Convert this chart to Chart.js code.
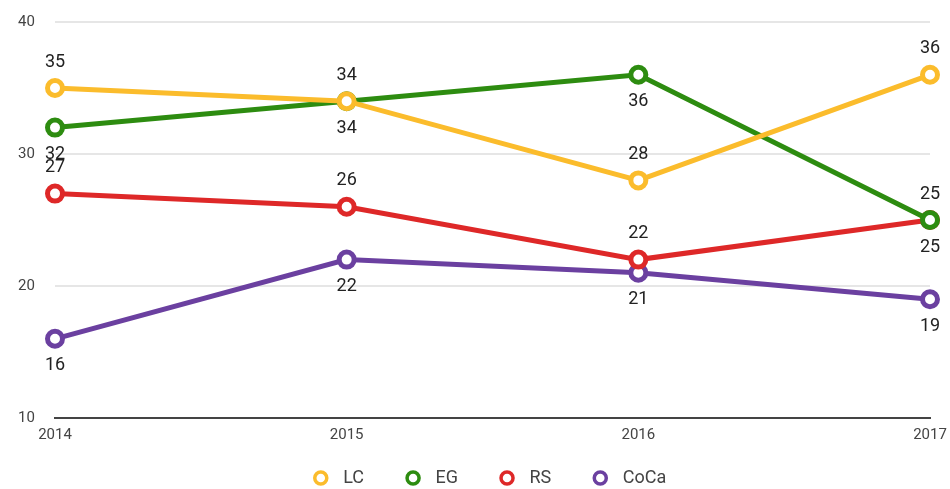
<!DOCTYPE html>
<html>
<head>
<meta charset="utf-8">
<script src="https://cdn.jsdelivr.net/npm/chart.js"></script>
<style>
  html, body { margin: 0; padding: 0; background: #fff; }
  #chart { display: block; }
</style>
</head>
<body>
<canvas id="chart" width="950" height="489"></canvas>
<script>
// data
const years = ['2014', '2015', '2016', '2017'];
const lcValues = [35, 34, 28, 36];
const egValues = [32, 34, 36, 25];
const rsValues = [27, 26, 22, 25];
const cocaValues = [16, 22, 21, 19];
const yMin = 10, yMax = 40, yStep = 10;

// value labels above / below each point
const valueLabels = {
  id: 'valueLabels',
  afterDatasetsDraw(chart) {
    const ctx = chart.ctx;
    ctx.save();
    ctx.font = '18px Roboto';
    ctx.fillStyle = '#222';
    ctx.textAlign = 'center';
    ctx.textBaseline = 'middle';
    chart.data.datasets.forEach((ds, i) => {
      chart.getDatasetMeta(i).data.forEach((pt, j) => {
        const dy = ds.labelPos === 'below' ? 27 : -26;
        ctx.fillText(String(ds.data[j]), pt.x, pt.y + dy);
      });
    });
    ctx.restore();
  }
};

function series(label, data, color, labelPos) {
  return {
    label,
    data,
    labelPos,
    borderColor: color,
    backgroundColor: '#fff',
    borderWidth: 5,
    pointRadius: 7.5,
    pointBorderWidth: 5,
    pointBackgroundColor: '#fff',
    pointBorderColor: color,
    tension: 0,
    clip: false
  };
}

new Chart(document.getElementById('chart'), {
  type: 'line',
  data: {
    labels: years,
    datasets: [
      series('LC', lcValues, '#fbbc2c', 'above'),
      series('EG', egValues, '#2d8c10', 'below'),
      series('RS', rsValues, '#de2828', 'above'),
      series('CoCa', cocaValues, '#6b40a0', 'below')
    ]
  },
  options: {
    responsive: false,
    animation: false,
    layout: { padding: { top: 22, right: 20, left: 48, bottom: -8 } },
    plugins: {
      tooltip: { enabled: false },
      legend: {
        position: 'bottom',
        labels: {
          usePointStyle: true,
          pointStyle: 'circle',
          boxWidth: 18,
          boxHeight: 8.5,
          padding: 40,
          color: '#444',
          font: { family: 'Roboto', size: 18 },
          generateLabels(chart) {
            const items = Chart.defaults.plugins.legend.labels.generateLabels(chart);
            items.forEach(it => {
              it.text = ' ' + it.text;
              it.fillStyle = '#fff';
              it.lineWidth = 3.5;
            });
            return items;
          }
        }
      }
    },
    scales: {
      x: {
        offset: false,
        grid: { display: false, drawTicks: false },
        border: { display: true, color: '#444', width: 2 },
        ticks: { mirror: true, padding: -26, color: '#444', maxRotation: 0, font: { family: 'Roboto', size: 15 } },
        afterFit(scale) {
          scale.height = 11;
          scale.paddingLeft = 0;
          scale.paddingRight = 0;
        }
      },
      y: {
        min: yMin,
        max: yMax,
        grid: { drawTicks: false, lineWidth: 2, color: '#e6e6e6' },
        border: { display: false },
        ticks: { mirror: true, padding: -37, stepSize: yStep, color: '#444', font: { family: 'Roboto', size: 15 } },
        afterFit(scale) {
          scale.width = 7;
          scale.paddingTop = 0;
          scale.paddingBottom = 0;
        }
      }
    }
  },
  plugins: [valueLabels]
});
</script>
</body>
</html>
